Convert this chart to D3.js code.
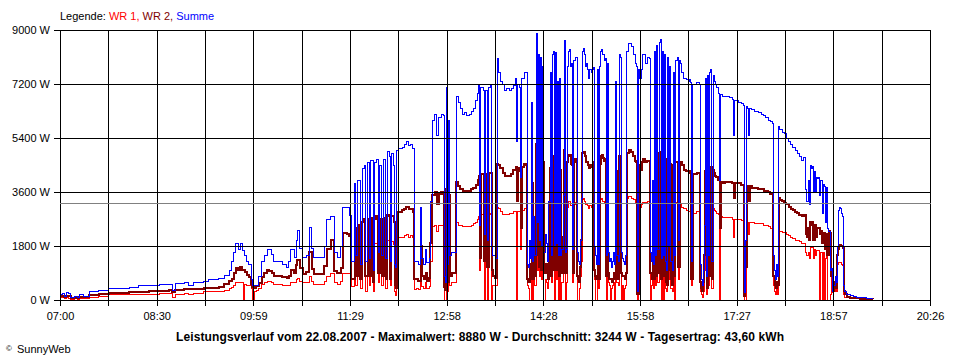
<!DOCTYPE html>
<html><head><meta charset="utf-8">
<script src="https://cdn.jsdelivr.net/npm/d3@7"></script>
<style>
body{margin:0;background:#fff;}
svg{display:block;font-family:"Liberation Sans",Arial,sans-serif;}
</style></head><body>
<svg id="chart" width="960" height="360"></svg>
<script>
// minutes after 07:00
const minutes = [
0,2,4,6,8,10,13,16,18,22,
27,36,45,55,64,73,82,92,101,104,
107,115,119,124,129,133,138,147,152,157,
159,161,163,165,167,169,170,171,173,175,
177,178,180,182,184,187,189,192,194,196,
198,206,210,212,214,217,219,220,222,225,
228,231,233,235,240,245,247,251,254,257,
260,262,266,268,270,273,274,276,278,280,
282,283,285,287,288,290,291,293,295,296,
298,300,302,303,305,306,307,309,310,311,
312,314,317,319,321,323,325,327,328,330,
332,334,335,337,339,340,342,343,345,347,
349,351,353,355,356,357,358,359,360,361,
363,365,367,369,371,373,375,377,379,381,
383,385,387,388,389,390,392,393,394,396,
397,399,400,401,403,405,406,408,410,412,
414,416,418,420,422,423,424,426,427,428,
430,432,433,434,435,436,437,438,439,440,
441,442,443,444,445,446,447,448,450,451,
452,453,454,455,456,457,458,459,460,461,
462,463,464,465,466,467,468,469,470,471,
472,473,474,475,476,477,478,479,480,481,
482,483,484,485,486,487,488,489,490,491,
492,493,494,495,496,497,498,499,500,501,
502,503,504,505,506,507,508,509,510,511,
512,513,514,515,516,517,518,519,520,521,
522,523,524,525,527,529,531,533,534,535,
536,537,539,540,542,544,546,547,548,549,
550,551,552,553,554,555,556,557,558,559,
560,561,562,563,564,565,566,567,568,569,
570,572,573,574,575,576,578,580,582,583,
584,585,586,588,590,592,593,594,595,596,
597,598,599,600,601,602,603,604,605,606,
607,608,610,611,612,614,616,618,620,622,
623,624,625,627,629,631,633,634,635,636,
637,638,639,641,643,645,647,650,652,654,
656,658,660,661,662,663,664,665,666,667,
669,671,673,675,677,679,681,683,685,687,
689,690,691,692,693,694,695,696,697,698,
699,700,701,702,703,704,705,706,707,708,
709,710,711,712,713,714,715,716,717,718,
719,720,721,722,723,724,725,726,727,729,
732,735,738,741,744,747,750,753
];
// WR 1 (W)
const wr1 = [
100,80,60,70,60,30,40,30,50,50,
100,130,170,170,200,200,200,230,230,70,
200,220,200,230,230,270,270,270,330,400,
430,500,570,570,600,570,0,530,500,470,
370,0,300,330,400,530,570,630,630,600,
530,500,470,500,600,570,670,730,630,570,
570,800,630,530,530,630,800,870,570,530,
630,870,900,870,450,1500,500,1700,400,1800,
1800,300,1900,500,1900,300,1900,1900,600,1800,
500,1950,400,2000,1950,500,1950,1850,300,150,
2050,2100,2100,2150,2200,2100,2150,2100,350,400,
350,1200,450,400,600,400,450,1300,2450,2500,
2300,2500,2500,2450,0,0,2400,300,2400,500,
600,600,2600,2500,2500,2450,2450,2450,2450,2500,
2550,2600,2700,2800,1000,2850,2850,0,2800,0,
2850,2900,0,500,500,3100,3050,2950,2850,2850,
2850,2900,2900,2950,2950,0,2950,2950,1700,3000,
3050,3000,500,400,0,0,2600,0,1200,500,
3550,1000,3300,800,3200,700,3100,0,700,600,
400,1300,3000,600,3300,3300,0,3300,700,2900,
0,2900,0,600,1400,3400,0,600,3100,3300,
3300,3150,3150,600,3200,3200,3250,0,0,400,
800,1300,3350,3400,3300,3200,3200,3150,3050,3150,
3100,3100,3100,700,0,0,3100,400,3150,3350,
3400,3300,3250,3250,0,3200,600,500,0,400,
500,600,0,3000,600,500,3350,3300,0,500,
0,400,500,3400,3450,3400,3350,3250,3200,0,
3200,3100,3200,3250,3250,3300,3300,0,500,1600,
400,3400,500,3400,600,3450,3450,0,3400,0,
3350,400,300,3300,700,3200,400,300,3100,0,
3250,3300,700,3250,3200,3100,3050,3000,2950,2950,
2900,500,2900,2900,2950,2950,300,200,100,300,
1000,3000,200,3100,500,3100,3150,400,3050,3000,
2950,2900,2850,0,2800,2750,2750,2750,2750,2750,
2700,2100,2700,2700,2700,2650,2650,0,0,2650,
2600,2200,2600,2600,2550,2550,2550,2550,2500,2500,
2450,2400,2350,500,300,200,400,200,2300,2300,
2250,2250,2200,2150,2100,2050,2000,2000,1950,1900,
1900,1900,1600,1500,1600,1400,1750,1750,1750,1400,
1700,1500,1650,1650,1650,0,1600,0,1600,0,
1400,1550,0,0,0,200,950,250,300,500,
300,1200,1250,1250,1250,1200,1150,200,100,70,
60,50,40,30,30,20,20,10
];
// WR 2 (W)
const wr2 = [
130,130,100,130,130,70,80,70,100,100,
170,200,230,230,270,270,300,300,330,270,
330,370,370,370,370,400,400,430,530,630,
700,900,1070,1000,1100,1000,1000,930,830,770,
530,430,400,470,570,770,900,1000,970,900,
800,770,730,800,1000,900,1170,1330,1070,870,
930,1600,1030,870,870,1130,1700,2000,970,900,
1070,2230,2200,2130,700,2400,800,2500,700,2600,
2700,800,2700,800,2750,600,2700,2800,900,2700,
800,2750,700,2850,2800,700,2800,2600,500,400,
2950,2950,3000,3050,3100,3050,3050,2950,700,700,
650,1800,800,700,900,650,750,1900,3500,3600,
3200,3550,3600,3550,450,350,3700,600,3500,800,
900,900,3950,3800,3700,3650,3650,3600,3650,3700,
3750,3850,4000,4150,1400,4200,4200,1300,4200,1100,
4250,4250,1000,800,750,4550,4500,4400,4250,4150,
4150,4150,4200,4350,4450,3300,4400,4300,2400,4450,
4550,4500,700,600,1200,700,3900,700,1500,800,
5200,1500,4800,1100,4700,1000,4600,900,1200,1100,
700,1900,4400,800,4700,4800,1000,4750,1000,4300,
800,4350,900,900,2100,5000,900,900,4600,4800,
4850,4550,4500,900,4700,4600,4700,800,700,600,
1100,2000,4900,4950,4800,4600,4600,4500,4400,4500,
4450,4500,4600,1000,800,700,4500,700,4550,4800,
4850,4750,4650,4700,800,4600,900,700,700,600,
700,900,700,4300,800,700,4800,4750,900,800,
800,700,900,4900,5000,4950,4800,4650,4600,200,
4500,4350,4600,4700,4600,4650,4650,900,700,2300,
700,4750,800,4800,900,4900,4950,700,4800,800,
4700,600,500,4800,1000,4550,700,500,4500,800,
4600,4600,1100,4600,4600,4500,4350,4300,4300,4300,
4250,700,4200,4200,4250,4250,600,400,300,600,
1500,4300,400,4400,800,4400,4450,700,4350,4250,
4150,4100,4000,2400,3950,3900,3950,3950,3950,3950,
3900,3400,3900,3900,3900,3850,3850,150,1100,3800,
3800,3300,3800,3750,3750,3750,3700,3700,3650,3650,
3600,3550,3550,800,500,400,600,500,3400,3350,
3300,3250,3200,3100,3050,3000,2950,2900,2850,2800,
2850,2850,2200,2100,2400,2000,2600,2500,2600,2000,
2500,2100,2400,2400,2400,2200,2300,1900,2250,2250,
1700,2200,1500,2300,2250,800,1000,300,400,600,
400,1500,1700,1850,1850,1800,1750,300,200,100,
80,70,60,50,40,30,30,20
];
// Summe (W)
const summe = [
200,230,130,250,230,100,130,100,170,130,
300,330,370,400,430,470,500,520,530,330,
550,600,500,570,600,630,700,730,830,1000,
1270,1600,1900,1670,1870,1650,1650,1500,1270,1170,
670,500,470,500,770,1270,1500,1700,1670,1530,
1270,1200,1100,1270,1670,1430,2000,2330,1730,1430,
1470,2430,1730,1430,1430,1800,2670,2770,1570,1430,
1770,3100,3070,2830,1300,3900,1500,4000,1200,4400,
4500,1300,4600,1400,4650,1000,4600,4700,1600,4500,
1500,4700,1400,4950,4800,1300,4900,4500,1200,1100,
5000,5050,5100,5200,5300,5150,5200,5050,1300,1300,
1200,3100,1400,1200,1700,1250,1400,3300,6000,6200,
5500,6100,6200,6150,800,600,7100,1200,6000,1500,
1600,1600,6800,6600,6400,6200,6250,6150,6200,6300,
6400,6650,6900,7150,2500,7100,7000,2200,7000,2000,
7100,7150,1800,1500,1400,8050,7600,7300,7200,7000,
7050,7000,7050,7150,7400,5300,7200,7100,4100,7400,
7600,7600,1200,1100,2000,1400,6600,1300,2800,1500,
8880,2600,8200,2000,8100,1800,7800,1600,2200,1900,
1300,3300,7600,1500,8200,8300,1800,8250,1900,7300,
1500,7400,1500,1700,3500,8650,1600,1700,7800,8300,
8350,7800,7900,1700,8000,8000,8100,1600,1300,1200,
2000,3400,8300,8400,8200,7800,7900,7700,7400,7700,
7600,7700,7750,1800,1500,1200,7700,1200,7800,8300,
8350,8200,8000,8050,1500,7900,1600,1300,1400,1100,
1300,1600,1200,7300,1500,1300,8200,8100,1600,1400,
1300,1200,1500,8300,8550,8450,8200,7900,7800,300,
7700,7400,7700,8200,7900,8100,8050,1600,1300,4000,
1200,8300,1500,8500,1700,8600,8700,1400,8300,1500,
8200,1300,1000,8100,1800,7800,1300,1000,7600,1500,
8000,8100,2000,8000,7900,7600,7400,7350,7300,7350,
7250,1300,7200,7200,7250,7200,1200,700,500,1000,
2500,7400,800,7500,1500,7600,7700,1300,7500,7300,
7200,7100,6900,4000,6850,6800,6800,6800,6750,6750,
6700,5500,6650,6650,6600,6550,6500,250,2000,6450,
6400,5500,6400,6350,6300,6300,6250,6200,6150,6100,
6000,5950,5900,1500,1000,700,1200,800,5800,5700,
5600,5550,5400,5300,5200,5100,5000,4900,4800,4650,
4750,4750,3700,3300,4000,3200,4500,4400,4450,3600,
4300,3600,4100,4050,4100,3500,4000,2900,3850,3800,
2600,3750,2400,2300,2300,1000,1050,300,500,800,
600,1800,3000,3100,3050,2900,2800,500,300,170,
150,120,100,80,70,60,50,40
];
const timeLabels = ["07:00","08:30","09:59","11:29","12:58","14:28","15:58","17:27","18:57","20:26"];
const yTicks = [0,1800,3600,5400,7200,9000];
const average = 3244;
const totalMinutes = 806;
const legendParts = [
  {text:"Legende: ", color:"#000000"},
  {text:"WR 1, ", color:"#ff0000"},
  {text:"WR 2, ", color:"#800000"},
  {text:"Summe", color:"#0000ff"}
];
const title = "Leistungsverlauf vom 22.08.2007 - Maximalwert: 8880 W - Durchschnitt: 3244 W - Tagesertrag: 43,60 kWh";

const svg = d3.select("#chart");
const x = d3.scaleLinear().domain([0, totalMinutes]).range([60, 930]);
const y = d3.scaleLinear().domain([0, 9000]).range([300, 30]);
const gridMinutes = d3.range(19).map(i => i * totalMinutes / 18);
const px = v => Math.round(v) + 0.5;

// data lines: WR 1, WR 2, then Summe on top
const series = [
  {values: wr1, color:"#ff0000", w:1},
  {values: wr2, color:"#800000", w:2},
  {values: summe, color:"#0000ff", w:1}
];
const line = vals => d3.line()
  .x((d,i) => x(minutes[i]))
  .y(d => y(d))
  .curve(d3.curveStepAfter)(vals);
svg.append("g").selectAll("path").data(series).join("path")
  .attr("d", s => line(s.values))
  .attr("fill","none")
  .attr("stroke", s => s.color)
  .attr("stroke-width", s => s.w)
  .attr("shape-rendering","crispEdges");

// grid
const grid = svg.append("g").attr("shape-rendering","crispEdges").attr("stroke","#000").attr("stroke-width",1);
grid.selectAll("line.v").data(gridMinutes).join("line").attr("class","v")
  .attr("x1", d => px(x(d))).attr("x2", d => px(x(d)))
  .attr("y1", px(y(9000))).attr("y2", px(y(0)) + 5);
grid.selectAll("line.h").data(yTicks).join("line").attr("class","h")
  .attr("x1", 54).attr("x2", 931)
  .attr("y1", d => px(y(d))).attr("y2", d => px(y(d)));

// average line
svg.append("line")
  .attr("x1", 60).attr("x2", 931)
  .attr("y1", px(y(average))).attr("y2", px(y(average)))
  .attr("stroke","#808080").attr("shape-rendering","crispEdges");

// axes (labels)
const xAxis = d3.axisBottom(x).tickValues(gridMinutes).tickSize(5).tickSizeOuter(0).tickPadding(7)
  .tickFormat((d,i) => i % 2 === 0 ? timeLabels[i/2] : "");
svg.append("g").attr("transform", `translate(0,${y(0)})`).call(xAxis)
  .call(g => g.select(".domain").remove())
  .call(g => g.selectAll(".tick line").attr("stroke","none"))
  .attr("font-family", '"Liberation Sans",Arial,sans-serif').attr("font-size", 11)
  .call(g => g.selectAll("text").attr("fill","#000"));

const yAxis = d3.axisLeft(y).tickValues(yTicks).tickSize(6).tickSizeOuter(0).tickPadding(4)
  .tickFormat(d => d + " W");
svg.append("g").attr("transform", `translate(60,0)`).call(yAxis)
  .call(g => g.select(".domain").remove())
  .call(g => g.selectAll(".tick line").attr("stroke","none"))
  .attr("font-family", '"Liberation Sans",Arial,sans-serif').attr("font-size", 11)
  .call(g => g.selectAll("text").attr("fill","#000"));

// legend
const leg = svg.append("text").attr("x", 60).attr("y", 20).attr("font-size", 11);
leg.selectAll("tspan").data(legendParts).join("tspan")
  .attr("fill", d => d.color).style("white-space","pre").text(d => d.text);

// title
svg.append("text").attr("x", 480).attr("y", 341).attr("text-anchor","middle")
  .attr("font-size", 12).attr("font-weight","bold")
  .attr("textLength", 608).attr("lengthAdjust","spacing")
  .text(title);

// copyright
const cp = svg.append("text").attr("x", 6).attr("y", 353).attr("font-size", 11);
cp.append("tspan").attr("font-size", 8).attr("dy", -2).text("©");
cp.append("tspan").attr("x", 17).attr("dy", 2).text("SunnyWeb");
</script>
</body></html>
